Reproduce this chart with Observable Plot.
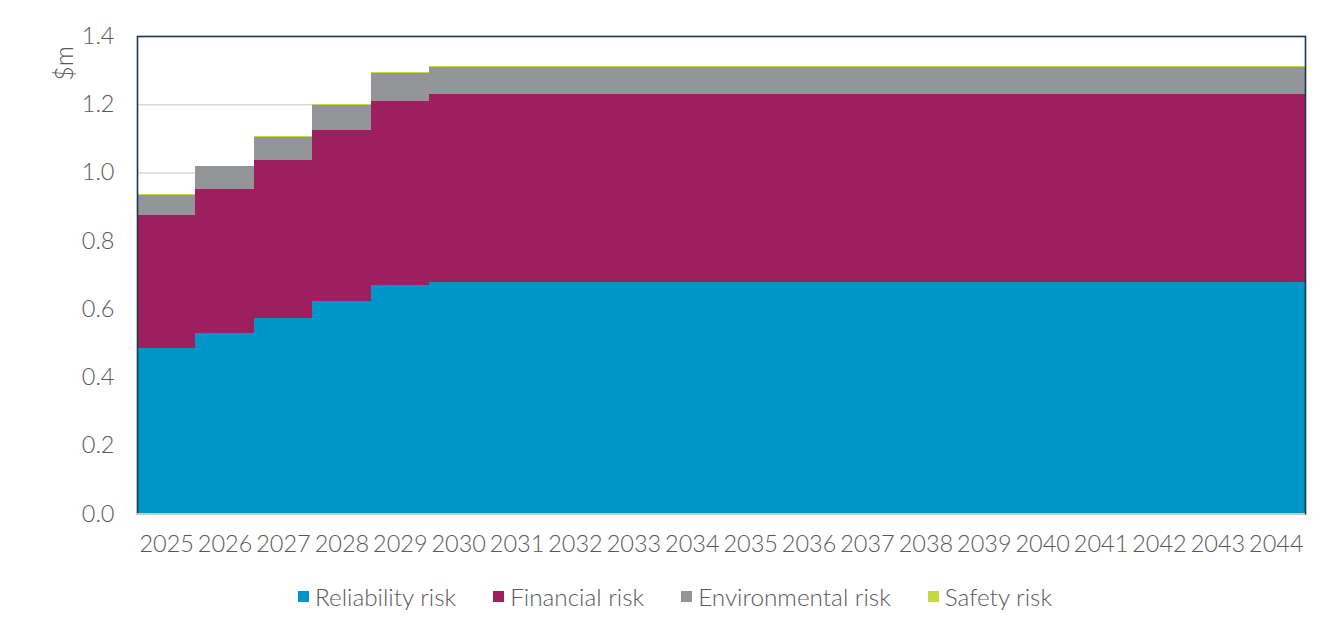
<!DOCTYPE html>
<html>
<head>
<meta charset="utf-8">
<script src="https://cdn.jsdelivr.net/npm/d3@7"></script>
<script src="https://cdn.jsdelivr.net/npm/@observablehq/plot@0.6"></script>
<style>
  html, body { margin: 0; padding: 0; background: #fff; }
  #wrap { width: 1333px; height: 633px; position: relative; font-family: Lato, "Open Sans", sans-serif; font-weight: 300; }
  #legend { position: absolute; left: 0; top: 570px; width: 1333px; height: 52px; display: flex; justify-content: center; align-items: center; gap: 37px; color: #595959; font-size: 24.3px; padding-left: 17px; box-sizing: border-box; }
  #legend .item { display: flex; align-items: center; }
  #legend .sw { width: 11px; height: 11px; margin-right: 6px; display: inline-block; }
  #chart svg text { font-weight: 300; }
</style>
</head>
<body>
<div id="wrap"><div id="chart"></div><div id="legend"></div></div>
<script>
const years = ["2025","2026","2027","2028","2029","2030","2031","2032","2033","2034","2035","2036","2037","2038","2039","2040","2041","2042","2043","2044"];
const seriesNames = ["Reliability risk", "Financial risk", "Environmental risk", "Safety risk"];
const seriesColors = ["#0095c8", "#9e1f5e", "#939598", "#c4d93e"];
const reliability = [0.484, 0.528, 0.572, 0.623, 0.669, 0.680, 0.680, 0.680, 0.680, 0.680, 0.680, 0.680, 0.680, 0.680, 0.680, 0.680, 0.680, 0.680, 0.680, 0.680];
const financial   = [0.391, 0.424, 0.464, 0.501, 0.541, 0.549, 0.549, 0.549, 0.549, 0.549, 0.549, 0.549, 0.549, 0.549, 0.549, 0.549, 0.549, 0.549, 0.549, 0.549];
const environmental = [0.060, 0.066, 0.069, 0.075, 0.081, 0.081, 0.081, 0.081, 0.081, 0.081, 0.081, 0.081, 0.081, 0.081, 0.081, 0.081, 0.081, 0.081, 0.081, 0.081];
const safety      = [0.002, 0.002, 0.002, 0.002, 0.002, 0.002, 0.002, 0.002, 0.002, 0.002, 0.002, 0.002, 0.002, 0.002, 0.002, 0.002, 0.002, 0.002, 0.002, 0.002];
const yTicks = [0, 0.2, 0.4, 0.6, 0.8, 1.0, 1.2, 1.4];
const yLabel = ["$m"];

const allSeries = [reliability, financial, environmental, safety];
const rows = [];
allSeries.forEach((vals, si) => {
  years.forEach((yr, i) => rows.push({year: yr, series: seriesNames[si], value: vals[i]}));
});

const chart = Plot.plot({
  width: 1333,
  height: 570,
  marginLeft: 137,
  marginRight: 28,
  marginTop: 36,
  marginBottom: 56.5,
  style: { fontFamily: "Lato, 'Open Sans', sans-serif", fontSize: "23.5px", color: "#595959", background: "#fff" },
  x: { domain: years, padding: 0, round: false, label: null, tickSize: 0, tickPadding: 22 },
  y: { domain: [0, 1.4], ticks: yTicks, tickFormat: d3.format(".1f"), label: null, tickSize: 0, tickPadding: 23 },
  color: { domain: seriesNames, range: seriesColors },
  marks: [
    Plot.gridY(yTicks, { stroke: "#d9d9d9", strokeOpacity: 1, strokeWidth: 1.5 }),
    Plot.barY(rows, Plot.stackY({ order: seriesNames }, { x: "year", y: "value", fill: "series", inset: 0, shapeRendering: "crispEdges" })),
    Plot.frame({ stroke: "#173753", strokeWidth: 1.6 }),
    Plot.ruleY([0], { stroke: "#c8c8c8", strokeWidth: 2 }),
    Plot.axisX({ tickSize: 0, tickPadding: 21, fill: "#595959" }),
    Plot.axisY({ ticks: yTicks, tickFormat: d3.format(".1f"), tickSize: 0, tickPadding: 23, fill: "#595959" }),
    Plot.text(yLabel, { text: d => d, frameAnchor: "top-left", dx: -82, dy: 27, rotate: -90, textAnchor: "middle", fill: "#595959", fontSize: 25 })
  ]
});
document.getElementById("chart").appendChild(chart);

const legend = document.getElementById("legend");
seriesNames.forEach((name, i) => {
  const item = document.createElement("div");
  item.className = "item";
  const sw = document.createElement("span");
  sw.className = "sw";
  sw.style.background = seriesColors[i];
  const label = document.createElement("span");
  label.textContent = name;
  item.appendChild(sw);
  item.appendChild(label);
  legend.appendChild(item);
});
</script>
</body>
</html>
